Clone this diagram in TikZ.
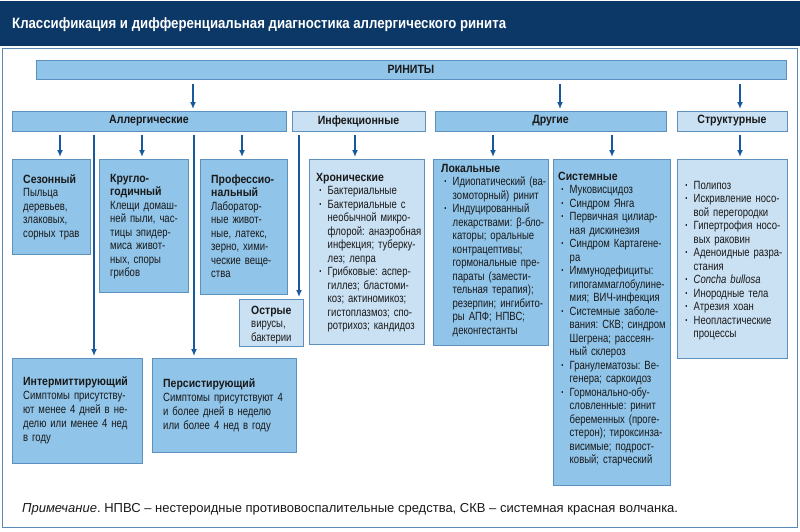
\documentclass[tikz,border=0pt]{standalone}
\usepackage{fontspec}
\setmainfont{Liberation Sans}[FakeStretch=0.80]
\newfontfamily\hb{Liberation Sans Bold}[FakeStretch=0.88]
\newfontfamily\notefont{Liberation Sans}
\usetikzlibrary{arrows.meta,calc}
\definecolor{navy}{RGB}{11,56,102}
\definecolor{midb}{RGB}{144,196,233}
\definecolor{lightb}{RGB}{202,225,244}
\definecolor{edgeb}{RGB}{92,144,190}
\definecolor{arrb}{RGB}{24,88,156}
\definecolor{frameb}{RGB}{88,138,182}
\definecolor{txt}{RGB}{25,25,25}
\newcommand{\bul}{\hspace*{3pt}\makebox[8.5pt][l]{\textbf{·}}}
\newcommand{\cnt}{\hspace*{11.5pt}}
\newcommand{\hd}[1]{{\hb #1}}
\frenchspacing
\begin{document}
\frenchspacing
\begin{tikzpicture}[x=1pt,y=-1pt,
  boxM/.style={draw=edgeb, fill=midb, line width=0.8pt, inner sep=0pt, outer sep=0pt, anchor=north west},
  boxL/.style={boxM, fill=lightb},
  hdr/.style={font=\hb\fontsize{12}{13}\selectfont, text=txt},
  body/.style={anchor=base west, inner sep=0pt, text width=160pt, align=left, font=\fontsize{11.9}{13.5}\selectfont\frenchspacing, text=txt},
  bodyw/.style={body, font=\fontsize{11.9}{14}\selectfont\frenchspacing},
  arr/.style={draw=arrb, line width=1.4pt, -{Latex[length=7pt,width=6pt]}, shorten >=2pt}
]
\useasboundingbox (0,0) rectangle (800,531);
% title bar and frame
\node[fill=navy, minimum width=800pt, minimum height=45pt, anchor=north west, inner sep=0pt, outer sep=0pt] (bar) at (0,1) {};
\node[anchor=base west, inner sep=0pt, text=white, font=\hb\fontsize{15}{17}\selectfont] (title) at (12,28) {Классификация и дифференциальная диагностика аллергического ринита};
\node[draw=frameb, line width=1pt, minimum width=795pt, minimum height=479pt, anchor=north west, inner sep=0pt, outer sep=0pt] (frame) at (2.5,48.5) {};

% top level
\node[boxM, minimum width=750pt, minimum height=19pt, hdr] (rin) at (36,60) {РИНИТЫ};
% second row
\node[boxM, minimum width=274pt, minimum height=20pt, hdr] (allerg) at (12,111) {Аллергические};
\node[boxL, minimum width=133pt, minimum height=20pt, hdr] (infek) at (292,111) {Инфекционные};
\node[boxM, minimum width=231pt, minimum height=20pt, hdr] (drug) at (435,111) {Другие};
\node[boxL, minimum width=110pt, minimum height=20pt, hdr] (struct) at (677,111) {Структурные};

% third row boxes
\node[boxM, minimum width=78pt, minimum height=95pt] (ses) at (12,159) {};
\node[boxM, minimum width=89pt, minimum height=133pt] (krug) at (99,159) {};
\node[boxM, minimum width=87pt, minimum height=135pt] (prof) at (200,159) {};
\node[boxL, minimum width=64pt, minimum height=47pt] (ostr) at (239,299) {};
\node[boxL, minimum width=115pt, minimum height=185pt] (chron) at (309,159) {};
\node[boxM, minimum width=115pt, minimum height=186pt] (lok) at (433,159) {};
\node[boxM, minimum width=117pt, minimum height=326pt] (sys) at (553,159) {};
\node[boxL, minimum width=110pt, minimum height=199pt] (strb) at (677,159) {};
\node[boxM, minimum width=130pt, minimum height=105pt] (interm) at (12,358) {};
\node[boxM, minimum width=144pt, minimum height=94pt] (pers) at (152,358) {};

% texts
\node[body] (tses) at (23,183) {\hd{Сезонный}\\Пыльца\\деревьев,\\злаковых,\\сорных трав};
\node[body] (tkrug) at (110,182) {\hd{Кругло-}\\\hd{годичный}\\Клещи домаш-\\ней пыли, час-\\тицы эпидер-\\миса живот-\\ных, споры\\грибов};
\node[body] (tprof) at (211,183) {\hd{Профессио-}\\\hd{нальный}\\Лаборатор-\\ные живот-\\ные, латекс,\\зерно, хими-\\ческие веще-\\ства};
\node[body] (tostr) at (251,314) {\hd{Острые}\\вирусы,\\бактерии};
\node[body] (tchron) at (316,181) {\hd{Хронические}\\
\bul Бактериальные\\
\bul Бактериальные с\\\cnt необычной микро-\\\cnt флорой: анаэробная\\\cnt инфекция; туберку-\\\cnt лез; лепра\\
\bul Грибковые: аспер-\\\cnt гиллез; бластоми-\\\cnt коз; актиномикоз;\\\cnt гистоплазмоз; спо-\\\cnt ротрихоз; кандидоз};
\node[body] (tlok) at (441,172) {\hd{Локальные}\\
\bul Идиопатический (ва-\\\cnt зомоторный) ринит\\
\bul Индуцированный\\\cnt лекарствами: β-бло-\\\cnt каторы; оральные\\\cnt контрацептивы;\\\cnt гормональные пре-\\\cnt параты (замести-\\\cnt тельная терапия);\\\cnt резерпин; ингибито-\\\cnt ры АПФ; НПВС;\\\cnt деконгестанты};
\node[body] (tsys) at (558,180) {\hd{Системные}\\
\bul Муковисцидоз\\
\bul Синдром Янга\\
\bul Первичная цилиар-\\\cnt ная дискинезия\\
\bul Синдром Картагене-\\\cnt ра\\
\bul Иммунодефициты:\\\cnt гипогаммаглобулине-\\\cnt мия; ВИЧ-инфекция\\
\bul Системные заболе-\\\cnt вания: СКВ; синдром\\\cnt Шегрена; рассеян-\\\cnt ный склероз\\
\bul Гранулематозы: Ве-\\\cnt генера; саркоидоз\\
\bul Гормонально-обу-\\\cnt словленные: ринит\\\cnt беременных (проге-\\\cnt стерон); тироксинза-\\\cnt висимые; подрост-\\\cnt ковый; старческий};
\node[body] (tstrb) at (682,189) {\bul Полипоз\\
\bul Искривление носо-\\\cnt вой перегородки\\
\bul Гипертрофия носо-\\\cnt вых раковин\\
\bul Аденоидные разра-\\\cnt стания\\
\bul \textit{Concha bullosa}\\
\bul Инородные тела\\
\bul Атрезия хоан\\
\bul Неопластические\\\cnt процессы};
\node[bodyw] (tinterm) at (23,385) {\hd{Интермиттирующий}\\Симптомы присутству-\\ют менее 4 дней в не-\\делю или менее 4 нед\\в году};
\node[bodyw] (tpers) at (163,387) {\hd{Персистирующий}\\Симптомы присутствуют 4\\и более дней в неделю\\или более 4 нед в году};

% footnote
\node[anchor=base west, inner sep=0pt, text=txt, font=\notefont\fontsize{13}{15}\selectfont] (note) at (22,512) {\textit{Примечание}. НПВС – нестероидные противовоспалительные средства, СКВ – системная красная волчанка.};

% arrows from top
\coordinate (r1) at (193,84);
\coordinate (r2) at (560,84);
\coordinate (r3) at (740,84);
\draw[arr] (r1) -- (r1 |- allerg.north);
\draw[arr] (r2) -- (r2 |- drug.north);
\draw[arr] (r3) -- (r3 |- struct.north);
% arrows to third row
\coordinate (s1) at (60,135);
\coordinate (s2) at (142,135);
\coordinate (s3) at (242,135);
\coordinate (s4) at (355,135);
\coordinate (s5) at (493,135);
\coordinate (s6) at (612,135);
\coordinate (s7) at (740,135);
\draw[arr] (s1) -- (s1 |- ses.north);
\draw[arr] (s2) -- (s2 |- krug.north);
\draw[arr] (s3) -- (s3 |- prof.north);
\draw[arr] (s4) -- (s4 |- chron.north);
\draw[arr] (s5) -- (s5 |- lok.north);
\draw[arr] (s6) -- (s6 |- sys.north);
\draw[arr] (s7) -- (s7 |- strb.north);
% long connectors
\coordinate (v1) at (94,135);
\coordinate (v2) at (194,135);
\coordinate (v3) at (299,135);
\draw[arr] (v1) -- (v1 |- interm.north);
\draw[arr] (v2) -- (v2 |- pers.north);
\draw[arr] (v3) -- (v3 |- ostr.north);
\end{tikzpicture}
\end{document}
